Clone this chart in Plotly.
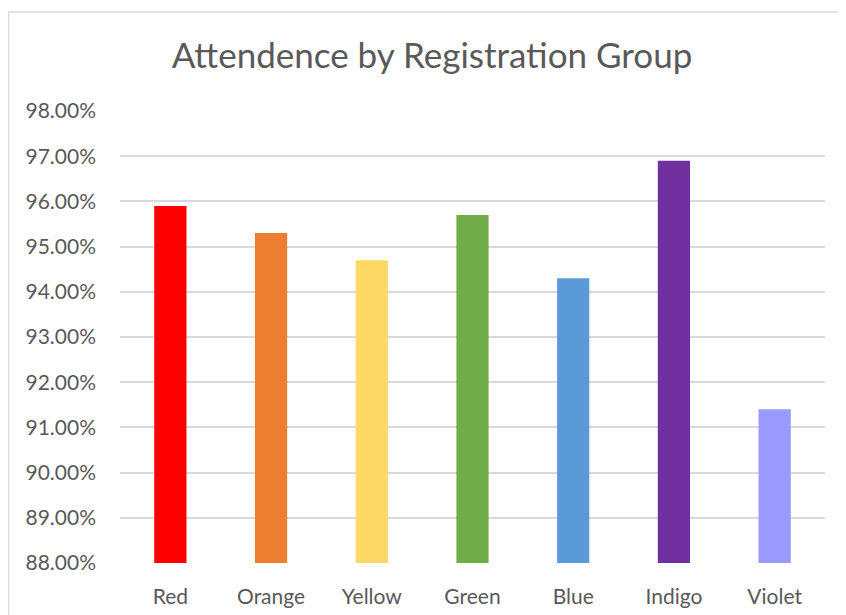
import plotly.graph_objects as go

categories = ["Red", "Orange", "Yellow", "Green", "Blue", "Indigo", "Violet"]
values = [95.9, 95.3, 94.7, 95.7, 94.3, 96.9, 91.4]
colors = ["#FF0000", "#ED7D31", "#FFD966", "#70AD47", "#5B9BD5", "#7030A0", "#9999FF"]
y_ticks = [88, 89, 90, 91, 92, 93, 94, 95, 96, 97, 98]
y_tick_labels = ["88.00%", "89.00%", "90.00%", "91.00%", "92.00%", "93.00%",
                 "94.00%", "95.00%", "96.00%", "97.00%", "98.00%"]

# page body adds an 8px offset; the figure is laid out to compensate
OFF = 8
W, H = 846 - OFF, 615 - OFF
L, R, T, B = 120 - OFF, 21, 111 - OFF, 52
pw = W - L - R
ph = H - T - B

fig = go.Figure(go.Bar(x=categories, y=values, marker=dict(color=colors, line=dict(width=0)),
                       width=0.32))

fig.update_layout(
    width=W, height=H,
    margin=dict(l=L, r=R, t=T, b=B, autoexpand=False),
    paper_bgcolor="white", plot_bgcolor="white",
    showlegend=False,
    font=dict(family="Lato, Open Sans, sans-serif", color="#595959"),
    title=dict(text="Attendence by Registration Group", x=(432 - OFF - L) / pw, xref="paper",
               xanchor="center", y=1 - (56 - OFF) / H, yanchor="middle",
               font=dict(size=35, color="#595959")),
    xaxis=dict(showgrid=False, showline=False, ticks="", ticklabelstandoff=19,
               tickfont=dict(size=21, color="#595959")),
    yaxis=dict(range=[88, 98], tickvals=y_ticks, ticktext=y_tick_labels,
               showgrid=True, gridcolor="#D9D9D9", gridwidth=1.5, zeroline=False,
               showline=False, ticks="", ticklabelstandoff=23,
               tickfont=dict(size=21, color="#595959")),
    shapes=[dict(type="rect", xref="paper", yref="paper",
                 x0=(0.5 - L) / pw, x1=(W + 5 - L) / pw,
                 y0=-(H + 5 - T - ph) / ph, y1=1 + (T - 4) / ph,
                 line=dict(color="#D9D9D9", width=1.5), fillcolor="rgba(0,0,0,0)", layer="below")],
)

fig.write_html("out.html")
